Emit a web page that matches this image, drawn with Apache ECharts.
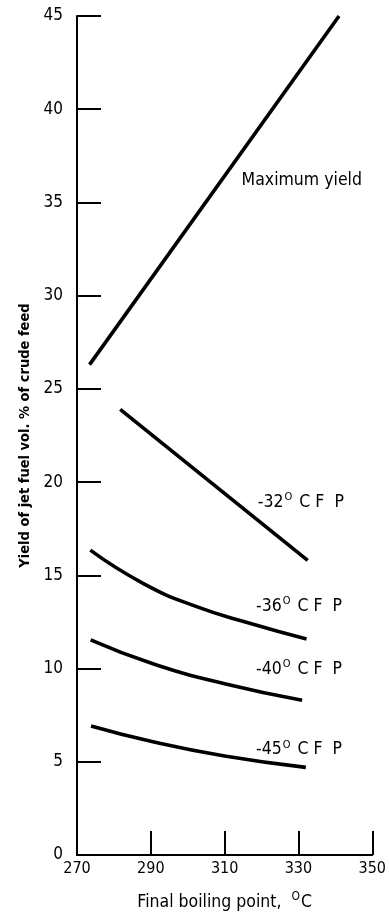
<!DOCTYPE html>
<html>
<head>
<meta charset="utf-8">
<script src="https://cdn.jsdelivr.net/npm/echarts@6/dist/echarts.min.js"></script>
<style>
html,body{margin:0;padding:0;background:#fff;}
#chart{width:389px;height:916px;}
</style>
</head>
<body>
<div id="chart"></div>
<script>
// Data
var xTicks = [270, 290, 310, 330, 350];
var yTicks = [0, 5, 10, 15, 20, 25, 30, 35, 40, 45];

var maxYieldX = [273.4, 341];
var maxYieldY = [26.3, 45];

var cfp32X = [281.7, 332.5];
var cfp32Y = [23.9, 15.8];

var cfp36X = [273.6, 288, 302.4, 316.8, 332.2];
var cfp36Y = [16.35, 14.56, 13.32, 12.43, 11.58];

var cfp40X = [273.7, 290, 310, 331];
var cfp40Y = [11.54, 10.3, 9.18, 8.3];

var cfp45X = [273.8, 290, 310, 332];
var cfp45Y = [6.92, 6.1, 5.31, 4.7];

// Curve labels
var labelTexts = ['Maximum yield', '-32', '-36', '-40', '-45'];
var labelX = [314.6, 319.0, 318.5, 318.5, 318.5];
var labelY = [36.2, 18.9, 13.35, 9.96, 5.64];

var FONT = '"DejaVu Sans Condensed", "Liberation Sans Narrow", "DejaVu Sans", sans-serif';

function zip(xs, ys) {
  return xs.map(function (x, i) { return [x, ys[i]]; });
}

function labelFormatter(i) {
  if (i === 0) return labelTexts[0];
  return labelTexts[i] + '{sup|O} C F  P';
}

var richSup = {
  sup: { fontSize: 11, fontFamily: FONT, color: '#000', verticalAlign: 'top', padding: [0, 2, 10, 1] }
};

function mk(i) {
  return {
    symbol: 'circle',
    symbolSize: 0,
    silent: true,
    itemStyle: { color: 'transparent' },
    label: {
      show: true,
      position: 'right',
      distance: 0,
      color: '#000',
      fontSize: 17.5,
      fontFamily: FONT,
      formatter: labelFormatter(i),
      rich: richSup
    },
    data: [{ coord: [labelX[i], labelY[i]] }]
  };
}

function lineSeries(xs, ys, smooth, i) {
  return {
    type: 'line',
    data: zip(xs, ys),
    smooth: smooth,
    showSymbol: false,
    symbol: 'none',
    lineStyle: { color: '#000', width: 3.6 },
    silent: true,
    markPoint: mk(i)
  };
}

var chart = echarts.init(document.getElementById('chart'));
chart.setOption({
  animation: false,
  backgroundColor: '#fff',
  grid: { left: 77, right: 15, top: 16, bottom: 56, containLabel: false },
  xAxis: {
    type: 'value',
    min: 270, max: 350, interval: 20,
    name: 'Final boiling point,  {sup|O}C',
    nameLocation: 'middle',
    nameGap: 36,
    nameTextStyle: { color: '#000', fontSize: 17.5, fontFamily: FONT, rich: {
      sup: { fontSize: 12, fontFamily: FONT, color: '#000', verticalAlign: 'top', padding: [0, 1, 10, 0] }
    } },
    axisLine: { show: true, onZero: false, lineStyle: { color: '#000', width: 2 } },
    axisTick: { show: true, inside: true, length: 24, lineStyle: { color: '#000', width: 2 } },
    axisLabel: {
      color: '#000', fontSize: 16, fontFamily: FONT, margin: 6,
      formatter: function (v) { return xTicks.indexOf(v) >= 0 ? String(v) : ''; }
    },
    splitLine: { show: false }
  },
  yAxis: {
    type: 'value',
    min: 0, max: 45, interval: 5,
    name: 'Yield of jet fuel vol. % of crude feed',
    nameLocation: 'middle',
    nameGap: 43,
    nameTextStyle: { color: '#000', fontSize: 14.5, fontFamily: FONT, fontWeight: 'bold' },
    axisLine: { show: true, onZero: false, lineStyle: { color: '#000', width: 2 } },
    axisTick: { show: true, inside: true, length: 24, lineStyle: { color: '#000', width: 2 } },
    axisLabel: {
      color: '#000', fontSize: 17, fontFamily: FONT, margin: 14,
      formatter: function (v) { return yTicks.indexOf(v) >= 0 ? String(v) : ''; }
    },
    splitLine: { show: false }
  },
  series: [
    lineSeries(maxYieldX, maxYieldY, false, 0),
    lineSeries(cfp32X, cfp32Y, false, 1),
    lineSeries(cfp36X, cfp36Y, true, 2),
    lineSeries(cfp40X, cfp40Y, true, 3),
    lineSeries(cfp45X, cfp45Y, true, 4)
  ]
});
</script>
</body>
</html>
